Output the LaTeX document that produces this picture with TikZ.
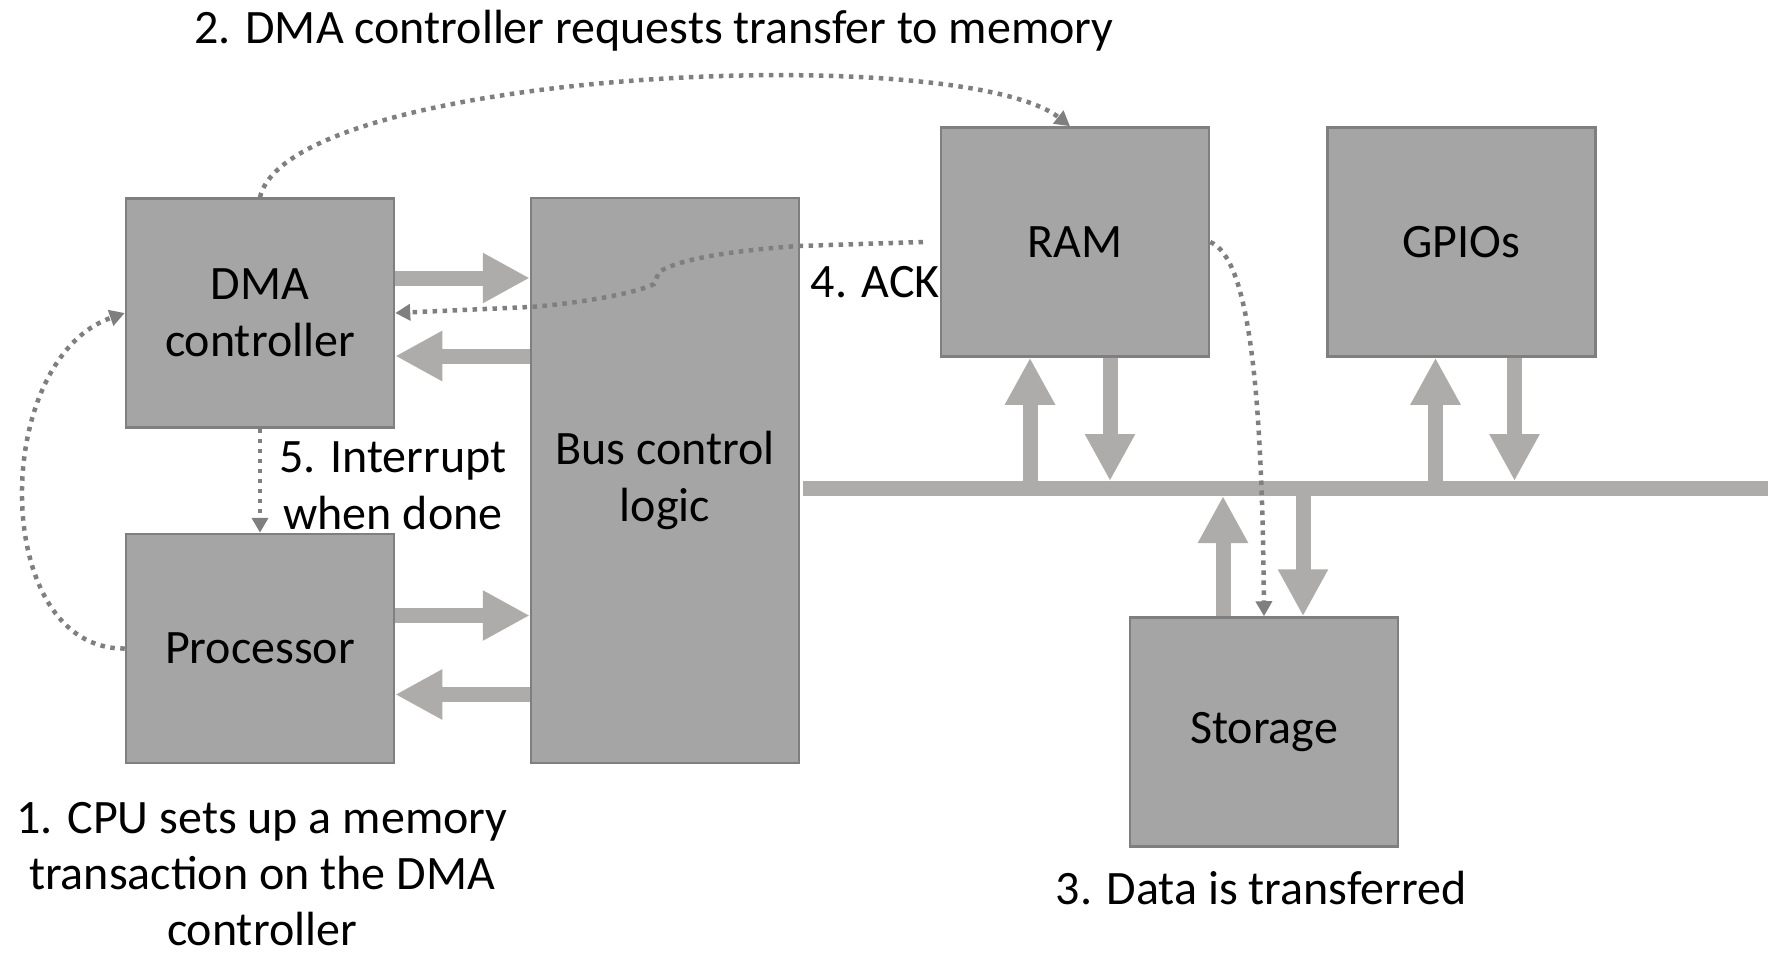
\documentclass[tikz,border=0pt]{standalone}
\usepackage{fontspec}
\setmainfont{Carlito}
\usetikzlibrary{arrows.meta,calc}
\definecolor{boxfill}{HTML}{A5A5A5}
\definecolor{boxline}{HTML}{7F7F7F}
\definecolor{bigarr}{HTML}{AEABAB}
\definecolor{dotc}{HTML}{7F7F7F}
\begin{document}
\begin{tikzpicture}[x=1pt,y=-1pt,
  blk/.style={draw=boxline, line width=2.5pt, fill=boxfill, minimum width=268pt, minimum height=229pt, inner sep=0pt, align=center, font=\fontsize{48}{57}\selectfont},
  bigarrow/.style={draw=bigarr, line width=15pt, line cap=butt, -{Triangle[length=47pt,width=47pt]}},
  dotarr/.style={draw=dotc, line width=4.5pt, dash pattern=on 4.5pt off 5.5pt, -{Triangle[length=15pt,width=16pt]}},
  lbl/.style={font=\fontsize{48}{57}\selectfont, inner sep=0pt, align=center}]
\useasboundingbox (0,0) rectangle (1768,956);
% labels
\node[lbl] (t2) at (654,31) {2. DMA controller requests transfer to memory};
\node[lbl, anchor=east] (t4) at (940,282) {4. ACK};
\node[lbl] (t5) at (393,486) {5. Interrupt\\when done};
\node[lbl, font=\fontsize{48}{56}\selectfont] (t1) at (262,874) {1. CPU sets up a memory\\transaction on the DMA\\controller};
\node[lbl] (t3) at (1261,888) {3. Data is transferred};
% boxes
\node[blk] (dma) at (260,313) {DMA\\controller};
\node[blk] (proc) at (260,648.5) {Processor};
\node[blk, minimum height=565pt] (bus) at (665,480.5) {Bus control\\logic};
\node[blk] (ram) at (1075,242) {RAM};
\node[blk] (gpio) at (1461.5,242) {GPIOs};
\node[blk] (stor) at (1264,732) {Storage};
% system bus
\coordinate (busL) at (803,488);
\coordinate (busR) at (1768,488);
\draw[draw=bigarr, line width=15pt] (busL) -- (busR);
\coordinate (bustop) at (0,481);
\coordinate (busbot) at (0,496);
% thick arrows left side
\coordinate (a1) at ($(dma.east)+(0,-35)$);
\coordinate (a2) at ($(dma.east)+(0,43)$);
\coordinate (a3) at ($(proc.east)+(0,-33)$);
\coordinate (a4) at ($(proc.east)+(0,46)$);
\draw[bigarrow] (a1) -- (a1 -| bus.west);
\draw[bigarrow] (a2 -| bus.west) -- (a2);
\draw[bigarrow] (a3) -- (a3 -| bus.west);
\draw[bigarrow] (a4 -| bus.west) -- (a4);
% thick arrows to bus
\coordinate (r1) at ($(ram.south)+(-45,0)$);
\coordinate (r2) at ($(ram.south)+(35,0)$);
\coordinate (g1) at ($(gpio.south)+(-26,0)$);
\coordinate (g2) at ($(gpio.south)+(53,0)$);
\coordinate (s1) at ($(stor.north)+(-41,0)$);
\coordinate (s2) at ($(stor.north)+(39,0)$);
\draw[bigarrow] (r1 |- bustop) -- (r1);
\draw[bigarrow] (r2) -- (r2 |- bustop);
\draw[bigarrow] (g1 |- bustop) -- (g1);
\draw[bigarrow] (g2) -- (g2 |- bustop);
\draw[bigarrow] (s1) -- (s1 |- busbot);
\draw[bigarrow] (s2 |- busbot) -- (s2);
% dotted connectors
\coordinate (ramtip) at ($(ram.north)+(-5,0)$);
\draw[dotarr] (dma.north) .. controls (290,70) and (960,40) .. (ramtip);
\draw[dotarr] (proc.west) .. controls (-10,650) and (-10,360) .. (dma.west);
\draw[dotarr] (dma.south) -- (proc.north);
\draw[dotarr] (ram.east) .. controls (1248,258) and (1262,380) .. (stor.north);
\coordinate (ackS) at (923,242);
\draw[dotarr] (ackS) -- (798,246) .. controls (740,250) and (680,258) .. (659,272) -- (654,284) .. controls (630,296) and (560,305) .. (530,307) -- (dma.east);
\end{tikzpicture}
\end{document}
